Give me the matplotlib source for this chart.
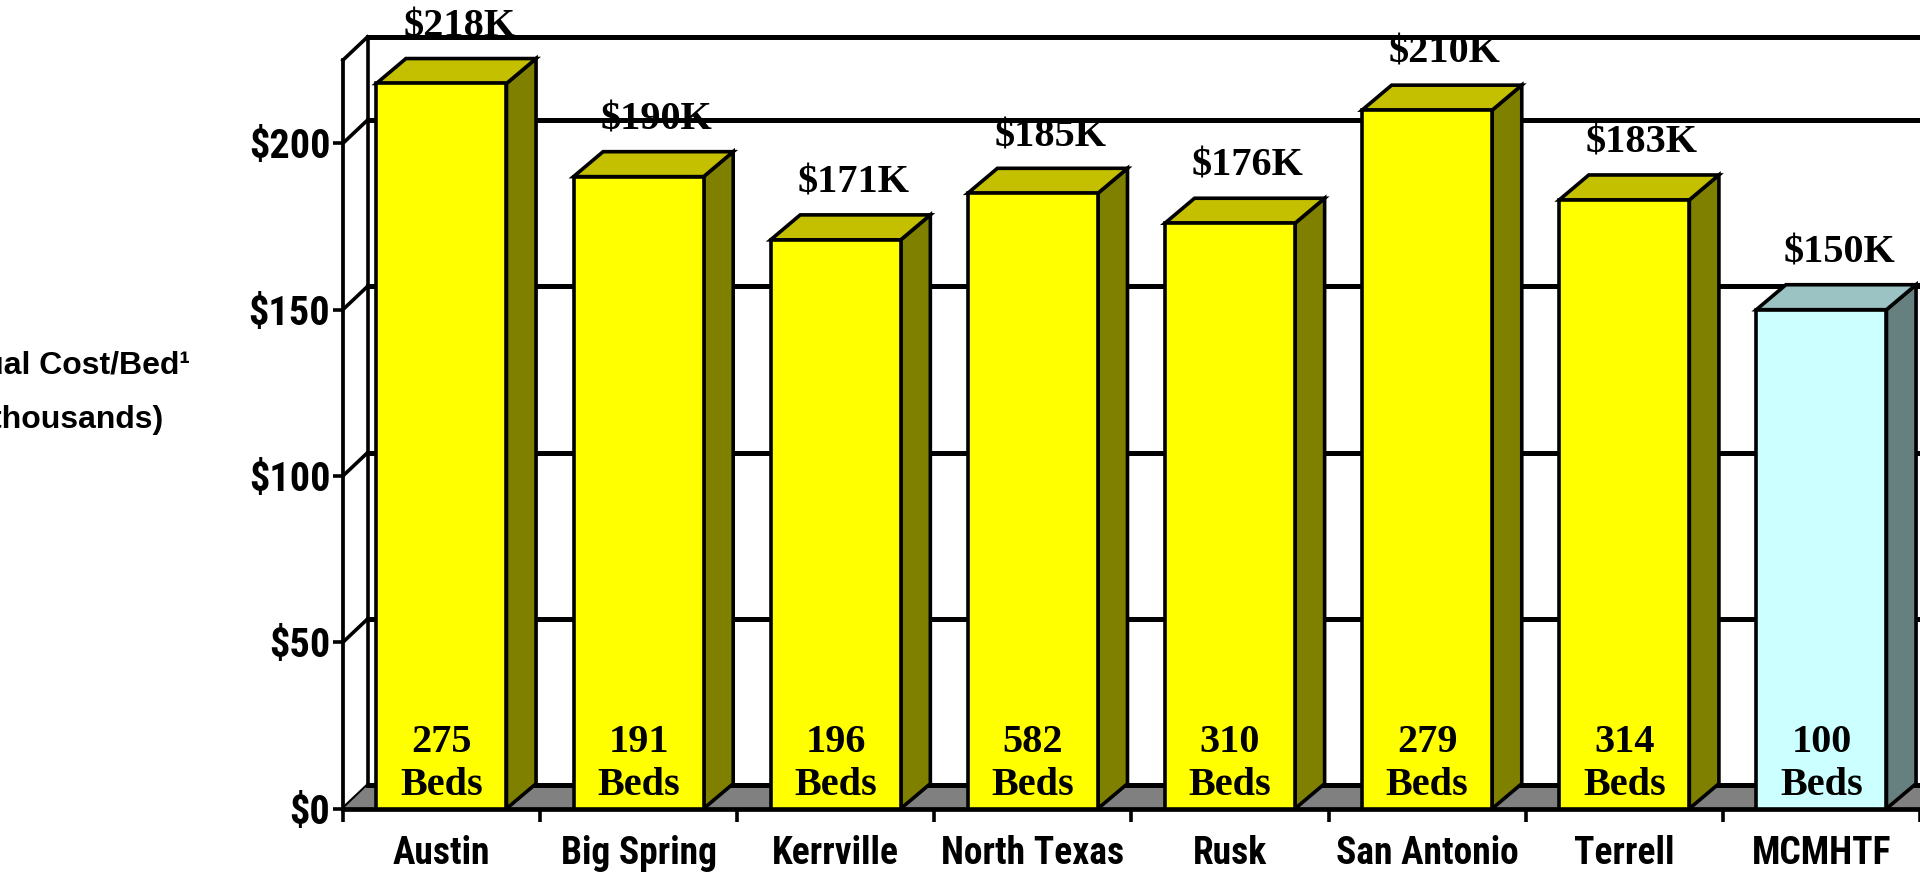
import numpy as np
import matplotlib.pyplot as plt
from matplotlib.patches import Polygon

hospitals = ["Austin", "Big Spring", "Kerrville", "North Texas", "Rusk",
             "San Antonio", "Terrell", "MCMHTF"]
cost_k = [218, 190, 171, 185, 176, 210, 183, 150]
beds = [275, 191, 196, 582, 310, 279, 314, 100]
yticks = [0, 50, 100, 150, 200]
ytick_labels = ["$0", "$50", "$100", "$150", "$200"]

narrow = ["Roboto Condensed", "Archivo Narrow", "Liberation Sans", "DejaVu Sans"]
sans = ["Liberation Sans", "DejaVu Sans"]
serif = ["Liberation Serif", "DejaVu Serif"]

fig = plt.figure(figsize=(19.2, 8.76), dpi=100)
ax = fig.add_axes([280 / 1568, 55 / 715, 1 - 280 / 1568, 660 / 715])

x = np.arange(len(hospitals))
ax.set_xlim(-0.5, 7.48)
ax.set_ylim(0, 243.1)

# depth of the 3d look (walls and bars)
wdx, wdy = 0.125, 7.0
bdx, bdy = 0.15, 7.5
wall_top = 225
bw = 0.66

# back wall + gridlines
x0 = -0.5 + wdx
ax.plot([x0, x0], [wdy, wall_top + wdy], color="black", lw=2.6, zorder=1, clip_on=False)
for v in yticks[1:] + [wall_top]:
    ax.plot([x0, 8], [v + wdy, v + wdy], color="black", lw=3.6, zorder=1)
for v in yticks + [wall_top]:
    ax.plot([-0.5, x0], [v, v + wdy], color="black", lw=2.6, zorder=1, clip_on=False)

# floor
floor = Polygon([(-0.5, 0), (8, 0), (8, wdy), (x0, wdy)], closed=True,
                facecolor="#808080", edgecolor="none", zorder=1.2)
ax.add_patch(floor)
ax.plot([x0, 8], [wdy, wdy], color="black", lw=3.6, zorder=1.3)

# bars
for i, (v, b) in enumerate(zip(cost_k, beds)):
    if hospitals[i] == "MCMHTF":
        front, top, side = "#CCFFFF", "#9CC3C3", "#668080"
    else:
        front, top, side = "#FFFF00", "#C4C000", "#808000"
    l, r = x[i] - bw / 2, x[i] + bw / 2
    ax.add_patch(Polygon([(r, 0), (r + bdx, bdy), (r + bdx, v + bdy), (r, v)],
                         closed=True, facecolor=side, edgecolor="black", lw=2.6, zorder=3))
    ax.add_patch(Polygon([(l, v), (l + bdx, v + bdy), (r + bdx, v + bdy), (r, v)],
                         closed=True, facecolor=top, edgecolor="black", lw=2.6, zorder=3))
    ax.bar(x[i], v, width=bw, color=front, edgecolor="black", lw=2.6, zorder=4)

    ax.text(x[i] + 0.09, v + bdy + 4, f"${v}K", ha="center", va="bottom",
            fontsize=29, fontweight="bold", family=serif, zorder=5)
    ax.text(x[i], 20, str(b), ha="center", va="center",
            fontsize=29, fontweight="bold", family=serif, zorder=5)
    ax.text(x[i], 7, "Beds", ha="center", va="center",
            fontsize=29, fontweight="bold", family=serif, zorder=5)
    ax.text(x[i], -13.6, hospitals[i], ha="center", va="center",
            fontsize=27, fontweight="bold", family=narrow)

# axes / ticks
for s in ["top", "right"]:
    ax.spines[s].set_visible(False)
ax.spines["left"].set_bounds(0, wall_top)
ax.spines["left"].set_linewidth(2.7)
ax.spines["bottom"].set_linewidth(3.4)
ax.spines["bottom"].set_zorder(2)

ax.set_yticks(yticks)
ax.set_yticklabels(ytick_labels, fontsize=29, fontweight="bold", family=narrow)
ax.tick_params(axis="y", length=7, width=2.6, pad=2)
ax.set_xticks(np.arange(-0.5, 8, 1))
ax.set_xticklabels([])
ax.tick_params(axis="x", length=9, width=2.6)

fig.text(190 / 1920, 1 - 365 / 876, "Annual Cost/Bed\u00b9", ha="right", va="center",
         fontsize=23, fontweight="bold", family=sans)
fig.text(163 / 1920, 1 - 420 / 876, "(in thousands)", ha="right", va="center",
         fontsize=23, fontweight="bold", family=sans)

fig.savefig("out.png", dpi=100)
